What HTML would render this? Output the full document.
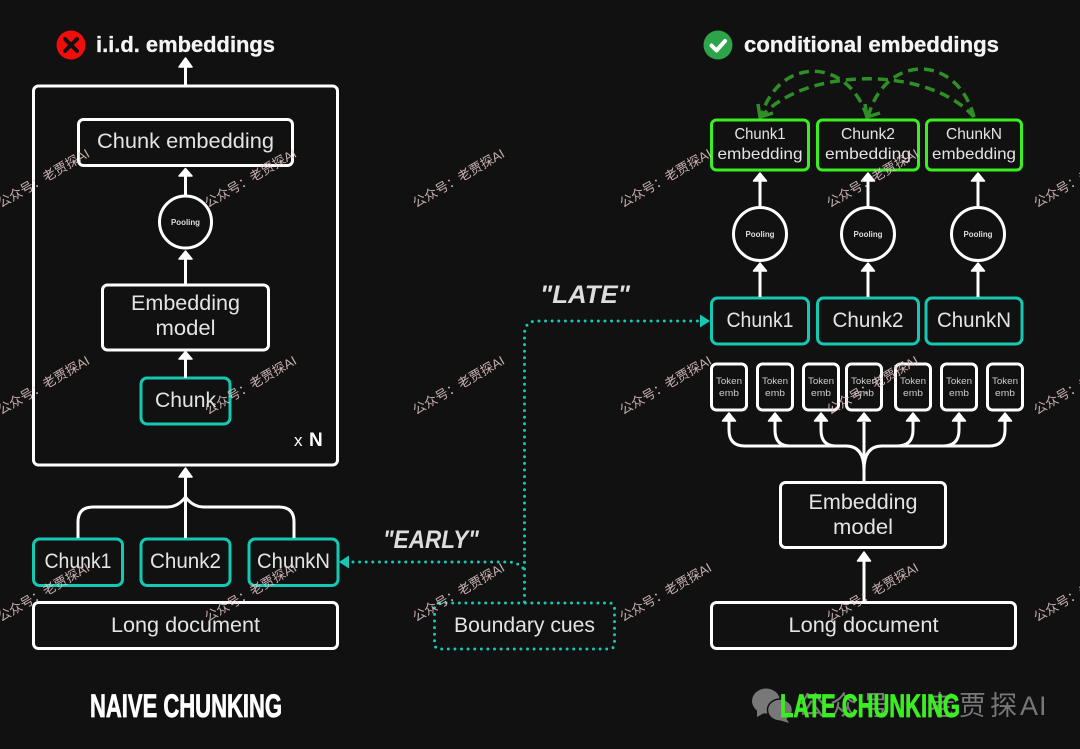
<!DOCTYPE html>
<html><head><meta charset="utf-8"><style>
html,body{margin:0;padding:0;background:#111;width:1080px;height:749px;overflow:hidden}
svg{display:block;filter:blur(.35px)}
text{font-family:"Liberation Sans","Noto Sans CJK SC",sans-serif;fill:#e4e4e4}
.l{font-size:21px;text-anchor:middle}
.m{font-size:16px;text-anchor:middle}
.t{font-size:9.5px;text-anchor:middle;fill:#ccc}
.p{font-size:8px;font-weight:bold;text-anchor:middle;fill:#ddd}
.h{font-size:22px;font-weight:bold;fill:#f4f4f4;stroke:#f4f4f4;stroke-width:.3}
.big{font-size:32px;font-weight:bold;fill:#fff;stroke:#fff;stroke-width:.8;text-anchor:middle}
.hand{font-size:25px;font-weight:bold;font-style:italic;fill:#ddd;text-anchor:middle}
.w{font-family:"Liberation Sans","Noto Sans CJK SC",sans-serif;font-size:13px;fill:#e6c9c9;opacity:.85}
.wb rect{fill:#111;stroke:#fff;stroke-width:3}
.tb rect{fill:#111;stroke:#14c8b4;stroke-width:3}
.gb rect{fill:#111;stroke:#3bee22;stroke-width:3}
.ln path{fill:none;stroke:#fff;stroke-width:3}
.ar polygon{fill:#fff;stroke:#fff;stroke-width:1.5;stroke-linejoin:round}
circle.c{fill:#111;stroke:#fff;stroke-width:3}
</style></head><body>
<svg width="1080" height="749" viewBox="0 0 1080 749" xmlns="http://www.w3.org/2000/svg">
<rect width="1080" height="749" fill="#111"/>

<!-- bottom-right logo watermark (beneath label) -->
<g fill="#787878">
<ellipse cx="766" cy="701" rx="14" ry="12.5"/>
<polygon points="757,709 757,717 766,712"/>
<ellipse cx="780" cy="710" rx="12.5" ry="11" stroke="#111" stroke-width="1.5"/>
<polygon points="786,718 789,723 779,720"/>
</g>
<text x="798 830 862 905 928 959 990 1020 1039" y="715" style="fill:#787878;font-size:27px">公众号·老贾探AI</text>

<!-- Left panel -->
<g class="wb">
<rect x="33.5" y="86" width="304" height="379" rx="5"/>
<rect x="78.5" y="119.5" width="214" height="46" rx="5"/>
<rect x="102.5" y="285" width="166" height="65" rx="5"/>
<rect x="33.5" y="602.5" width="304" height="46" rx="5"/>
</g>
<g class="tb">
<rect x="141" y="378" width="89" height="46" rx="6"/>
<rect x="33.5" y="539" width="89" height="46.5" rx="6"/>
<rect x="141" y="539" width="89" height="46.5" rx="6"/>
<rect x="249" y="539" width="89" height="46.5" rx="6"/>
</g>
<circle class="c" cx="185.5" cy="222" r="26"/>
<g class="ln">
<path d="M185.5 66V86M185.5 175V195M185.5 258V285M185.5 358V378M185.5 476V538"/>
<path d="M78 538V522Q78 507 93 507H167Q178 507 185.5 497Q193 507 204 507H279Q294 507 294 522V538"/>
</g>
<g class="ar">
<polygon points="185.5,58 179,67 192,67"/>
<polygon points="185.5,168.5 179,176 192,176"/>
<polygon points="185.5,251 179,259 192,259"/>
<polygon points="185.5,351.5 179,359 192,359"/>
<polygon points="185.5,468 179,477 192,477"/>
</g>

<circle cx="71" cy="45" r="14.5" fill="#f20d0d"/>
<path d="M65 39L77 51M77 39L65 51" stroke="#111" stroke-width="4" stroke-linecap="round"/>
<text class="h" x="96" y="52" textLength="179" lengthAdjust="spacingAndGlyphs">i.i.d. embeddings</text>

<text class="l" x="185.5" y="148" textLength="177" lengthAdjust="spacingAndGlyphs">Chunk embedding</text>
<text class="p" x="185.5" y="225" textLength="29" lengthAdjust="spacingAndGlyphs">Pooling</text>
<text class="l" x="185.5" y="310" textLength="109" lengthAdjust="spacingAndGlyphs">Embedding</text>
<text class="l" x="185.5" y="335" textLength="60" lengthAdjust="spacingAndGlyphs">model</text>
<text class="l" x="185.5" y="407" textLength="61" lengthAdjust="spacingAndGlyphs">Chunk</text>
<text x="294" y="446" style="font-size:17px;fill:#fff">x</text>
<text x="309" y="446" style="font-size:19px;font-weight:bold;fill:#fff">N</text>
<text class="l" x="78" y="568" textLength="67" lengthAdjust="spacingAndGlyphs">Chunk1</text>
<text class="l" x="185.5" y="568" textLength="71" lengthAdjust="spacingAndGlyphs">Chunk2</text>
<text class="l" x="293.5" y="568" textLength="73" lengthAdjust="spacingAndGlyphs">ChunkN</text>
<text class="l" x="185.5" y="632" textLength="149" lengthAdjust="spacingAndGlyphs">Long document</text>
<text class="big" x="186" y="717" textLength="192" lengthAdjust="spacingAndGlyphs">NAIVE CHUNKING</text>

<!-- Middle -->
<g fill="none" stroke="#14c8b4" stroke-width="3" stroke-linecap="round" stroke-dasharray="0 6.6">
<rect x="434.5" y="603" width="180" height="46" rx="5"/>
<path d="M524.5 602V334Q524.5 321 537.5 321H701"/>
<path d="M523 568Q517 562 508 562H349"/>
</g>
<polygon points="710,321 700,314.5 700,327.5" fill="#14c8b4"/>
<polygon points="339,562 349,555.5 349,568.5" fill="#14c8b4"/>
<text class="l" x="524.5" y="632" textLength="141" lengthAdjust="spacingAndGlyphs">Boundary cues</text>
<text class="hand" x="585" y="303" textLength="90" lengthAdjust="spacingAndGlyphs">"LATE"</text>
<text class="hand" x="431" y="548" textLength="96" lengthAdjust="spacingAndGlyphs">"EARLY"</text>

<!-- Right panel -->
<circle cx="718" cy="45" r="14.5" fill="#2ea44a"/>
<path d="M711.5 45.5L716.5 50.5L725 41" fill="none" stroke="#fff" stroke-width="4" stroke-linecap="round" stroke-linejoin="round"/>
<text class="h" x="744" y="52" textLength="255" lengthAdjust="spacingAndGlyphs">conditional embeddings</text>

<g fill="none" stroke="#2f8f26" stroke-width="3.5" stroke-dasharray="10 6">
<path d="M867 117C848 56 778 56 761 117"/>
<path d="M974 117C930 66 805 66 761 117"/>
<path d="M974 117C957 53 885 53 868 117"/>
</g>
<g fill="none" stroke="#2f8f26" stroke-width="3.5">
<path d="M758 104L760 117L773 113"/>
<path d="M865 104L867 117L880 113"/>
</g>

<g class="gb">
<rect x="711.5" y="120" width="97" height="50" rx="5"/>
<rect x="817.5" y="120" width="101" height="50" rx="5"/>
<rect x="926.5" y="120" width="95" height="50" rx="5"/>
</g>
<g class="tb">
<rect x="711.5" y="298" width="97" height="46" rx="6"/>
<rect x="817.5" y="298" width="101" height="46" rx="6"/>
<rect x="926" y="298" width="96" height="46" rx="6"/>
</g>
<g class="wb">
<rect x="711.5" y="364" width="35" height="46" rx="5"/>
<rect x="757.5" y="364" width="35" height="46" rx="5"/>
<rect x="803.5" y="364" width="35" height="46" rx="5"/>
<rect x="846.5" y="364" width="35" height="46" rx="5"/>
<rect x="895.5" y="364" width="35" height="46" rx="5"/>
<rect x="941.5" y="364" width="35" height="46" rx="5"/>
<rect x="987.5" y="364" width="35" height="46" rx="5"/>
<rect x="780.5" y="482.5" width="165" height="65" rx="5"/>
<rect x="711.5" y="602.5" width="304" height="46" rx="5"/>
</g>
<circle class="c" cx="760" cy="234" r="26.5"/>
<circle class="c" cx="868" cy="234" r="26.5"/>
<circle class="c" cx="978" cy="234" r="26.5"/>
<g class="ln">
<path d="M760 180V207M868 180V207M978 180V207M760 270V297M868 270V297M978 270V297"/>
<path d="M864 482V422M864 470Q864 446 846 446H745Q729 446 729 430V420"/>
<path d="M864 470Q864 446 882 446H989Q1005 446 1005 430V420"/>
<path d="M790 446Q775 446 775 430V420M836 446Q821 446 821 430V420M897 446Q913 446 913 430V420M943 446Q959 446 959 430V420"/>
<path d="M864 601V560"/>
</g>
<g class="ar">
<polygon points="760,173 753.5,181 766.5,181"/>
<polygon points="868,173 861.5,181 874.5,181"/>
<polygon points="978,173 971.5,181 984.5,181"/>
<polygon points="760,263 753.5,271 766.5,271"/>
<polygon points="868,263 861.5,271 874.5,271"/>
<polygon points="978,263 971.5,271 984.5,271"/>
<polygon points="729,413 722.5,421 735.5,421"/>
<polygon points="775,413 768.5,421 781.5,421"/>
<polygon points="821,413 814.5,421 827.5,421"/>
<polygon points="864,413 857.5,421 870.5,421"/>
<polygon points="913,413 906.5,421 919.5,421"/>
<polygon points="959,413 952.5,421 965.5,421"/>
<polygon points="1005,413 998.5,421 1011.5,421"/>
<polygon points="864,552 857.5,561 870.5,561"/>
</g>

<text class="m" x="760" y="139" textLength="51" lengthAdjust="spacingAndGlyphs">Chunk1</text>
<text class="m" x="760" y="159" textLength="85" lengthAdjust="spacingAndGlyphs">embedding</text>
<text class="m" x="868" y="139" textLength="54" lengthAdjust="spacingAndGlyphs">Chunk2</text>
<text class="m" x="868" y="159" textLength="86" lengthAdjust="spacingAndGlyphs">embedding</text>
<text class="m" x="974" y="139" textLength="56" lengthAdjust="spacingAndGlyphs">ChunkN</text>
<text class="m" x="974" y="159" textLength="84" lengthAdjust="spacingAndGlyphs">embedding</text>
<text class="p" x="760" y="237" textLength="29" lengthAdjust="spacingAndGlyphs">Pooling</text>
<text class="p" x="868" y="237" textLength="29" lengthAdjust="spacingAndGlyphs">Pooling</text>
<text class="p" x="978" y="237" textLength="29" lengthAdjust="spacingAndGlyphs">Pooling</text>
<text class="l" x="760" y="327" textLength="67" lengthAdjust="spacingAndGlyphs">Chunk1</text>
<text class="l" x="868" y="327" textLength="71" lengthAdjust="spacingAndGlyphs">Chunk2</text>
<text class="l" x="974" y="327" textLength="74" lengthAdjust="spacingAndGlyphs">ChunkN</text>
<text class="t" x="729" y="384" textLength="26" lengthAdjust="spacingAndGlyphs">Token</text>
<text class="t" x="729" y="396" textLength="20" lengthAdjust="spacingAndGlyphs">emb</text>
<text class="t" x="775" y="384" textLength="26" lengthAdjust="spacingAndGlyphs">Token</text>
<text class="t" x="775" y="396" textLength="20" lengthAdjust="spacingAndGlyphs">emb</text>
<text class="t" x="821" y="384" textLength="26" lengthAdjust="spacingAndGlyphs">Token</text>
<text class="t" x="821" y="396" textLength="20" lengthAdjust="spacingAndGlyphs">emb</text>
<text class="t" x="864" y="384" textLength="26" lengthAdjust="spacingAndGlyphs">Token</text>
<text class="t" x="864" y="396" textLength="20" lengthAdjust="spacingAndGlyphs">emb</text>
<text class="t" x="913" y="384" textLength="26" lengthAdjust="spacingAndGlyphs">Token</text>
<text class="t" x="913" y="396" textLength="20" lengthAdjust="spacingAndGlyphs">emb</text>
<text class="t" x="959" y="384" textLength="26" lengthAdjust="spacingAndGlyphs">Token</text>
<text class="t" x="959" y="396" textLength="20" lengthAdjust="spacingAndGlyphs">emb</text>
<text class="t" x="1005" y="384" textLength="26" lengthAdjust="spacingAndGlyphs">Token</text>
<text class="t" x="1005" y="396" textLength="20" lengthAdjust="spacingAndGlyphs">emb</text>
<text class="l" x="863" y="509" textLength="109" lengthAdjust="spacingAndGlyphs">Embedding</text>
<text class="l" x="863" y="534" textLength="60" lengthAdjust="spacingAndGlyphs">model</text>
<text class="l" x="863.5" y="632" textLength="150" lengthAdjust="spacingAndGlyphs">Long document</text>
<text class="big" x="870" y="717" textLength="180" lengthAdjust="spacingAndGlyphs" style="fill:#3bee22;stroke:#3bee22">LATE CHUNKING</text>

<!-- Repeated watermarks -->
<g class="wm">
<text class="w" transform="translate(1,208) rotate(-30)">公众号：老贾探AI</text>
<text class="w" transform="translate(208,208) rotate(-30)">公众号：老贾探AI</text>
<text class="w" transform="translate(416,208) rotate(-30)">公众号：老贾探AI</text>
<text class="w" transform="translate(623,208) rotate(-30)">公众号：老贾探AI</text>
<text class="w" transform="translate(830,208) rotate(-30)">公众号：老贾探AI</text>
<text class="w" transform="translate(1037,208) rotate(-30)">公众号：老贾探AI</text>
<text class="w" transform="translate(1,415) rotate(-30)">公众号：老贾探AI</text>
<text class="w" transform="translate(208,415) rotate(-30)">公众号：老贾探AI</text>
<text class="w" transform="translate(416,415) rotate(-30)">公众号：老贾探AI</text>
<text class="w" transform="translate(623,415) rotate(-30)">公众号：老贾探AI</text>
<text class="w" transform="translate(830,415) rotate(-30)">公众号：老贾探AI</text>
<text class="w" transform="translate(1037,415) rotate(-30)">公众号：老贾探AI</text>
<text class="w" transform="translate(1,622) rotate(-30)">公众号：老贾探AI</text>
<text class="w" transform="translate(208,622) rotate(-30)">公众号：老贾探AI</text>
<text class="w" transform="translate(416,622) rotate(-30)">公众号：老贾探AI</text>
<text class="w" transform="translate(623,622) rotate(-30)">公众号：老贾探AI</text>
<text class="w" transform="translate(830,622) rotate(-30)">公众号：老贾探AI</text>
<text class="w" transform="translate(1037,622) rotate(-30)">公众号：老贾探AI</text>
</g>
</svg>
</body></html>
